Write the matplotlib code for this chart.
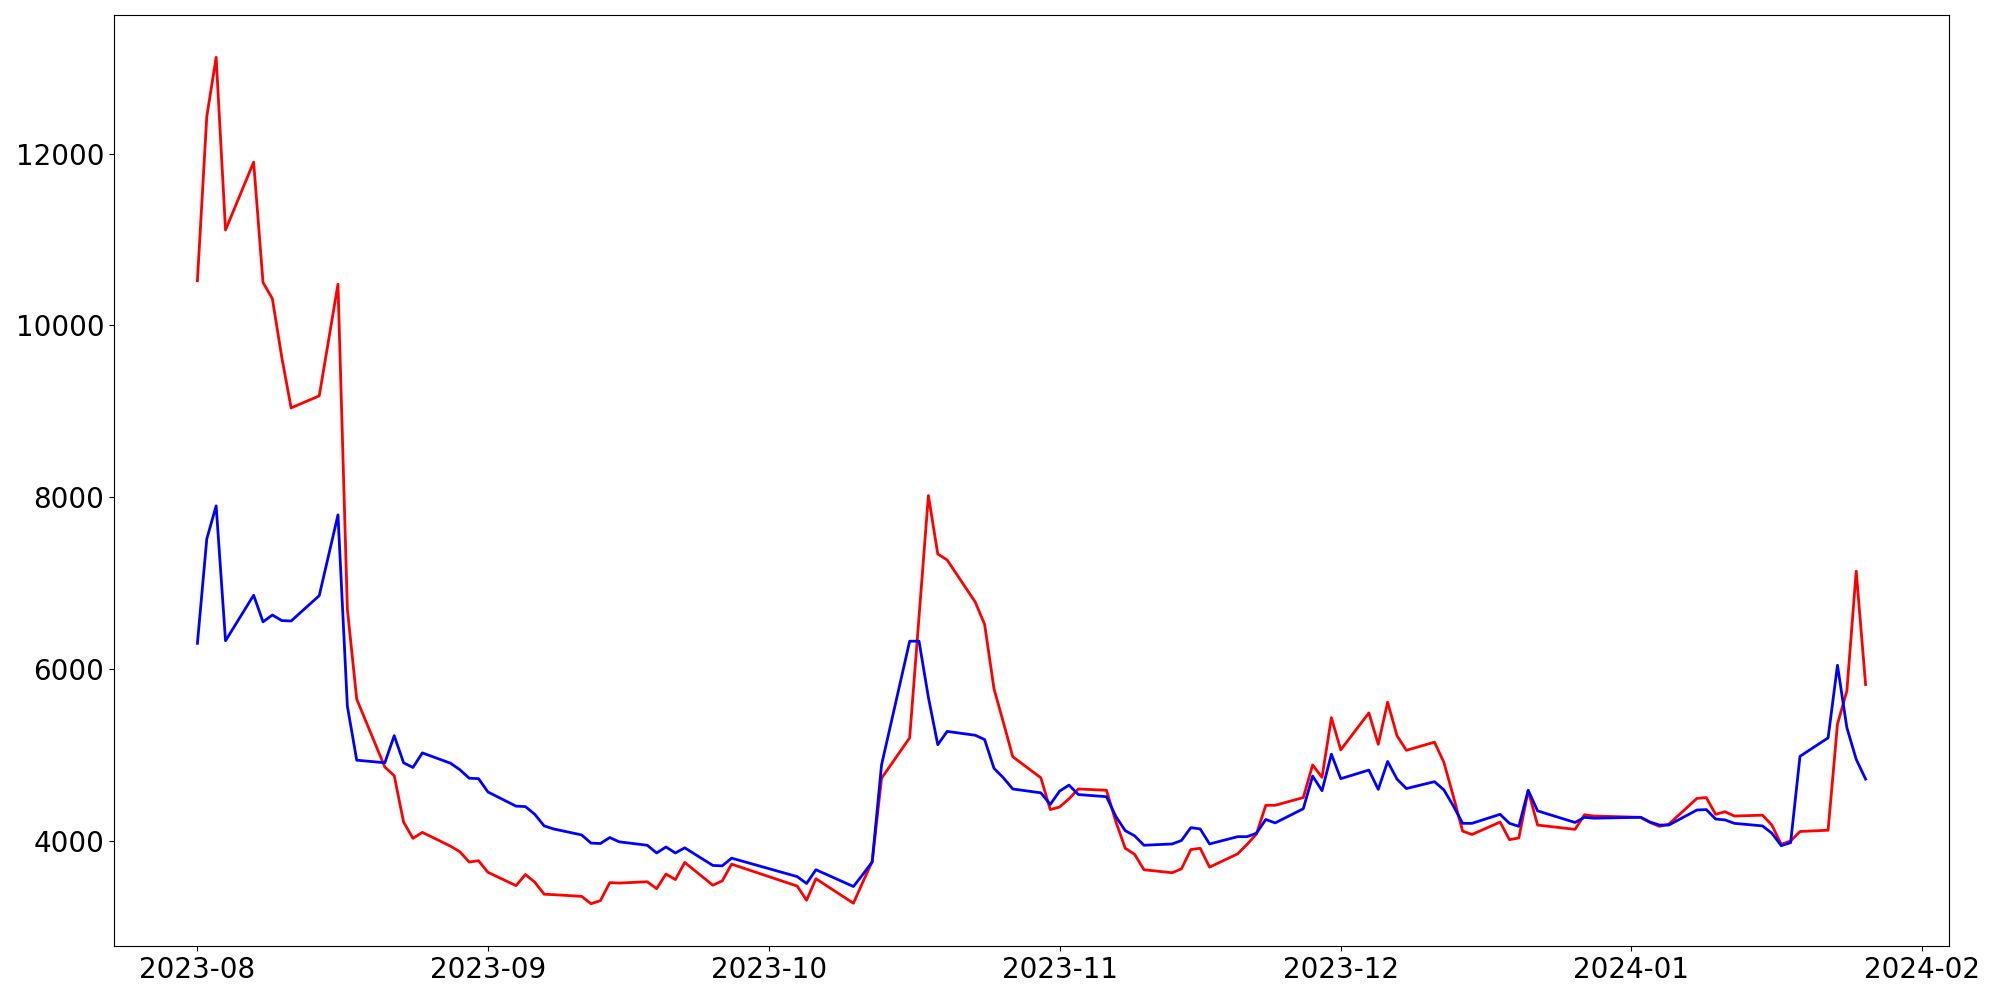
import numpy as np
import pandas as pd
import matplotlib
matplotlib.use("Agg")
import matplotlib.pyplot as plt

# trading days (Korean market holidays skipped)
holidays = ["2023-08-15", "2023-09-28", "2023-09-29", "2023-10-02", "2023-10-03",
            "2023-10-09", "2023-12-25", "2023-12-29", "2024-01-01"]
dates = pd.bdate_range("2023-08-01", "2024-01-26", freq="C", holidays=holidays)

red_aug = [10520, 12430, 13120, 11110, 11900, 10500, 10310, 9630, 9040, 9180, 10480,
           6700, 5650, 4860, 4760, 4220, 4030, 4100, 3940, 3875, 3755, 3770]
red_sep = [3635, 3480, 3610, 3520, 3380, 3375, 3355, 3270, 3305, 3515, 3510,
           3525, 3445, 3615, 3550, 3750, 3485, 3535, 3730]
red_oct = [3475, 3310, 3560, 3275, 3520, 3760, 4730, 5200, 6610, 8020, 7340,
           7270, 6780, 6520, 5770, 5380, 4980, 4735, 4365]
red_nov = [4395, 4490, 4605, 4590, 4225, 3915, 3845, 3665, 3630, 3675, 3900,
           3915, 3695, 3850, 3960, 4080, 4415, 4415, 4505, 4885, 4740, 5435]
red_dec = [5060, 5490, 5125, 5615, 5225, 5055, 5150, 4915, 4525, 4115, 4075,
           4220, 4015, 4035, 4585, 4185, 4135, 4305, 4290]
red_jan = [4275, 4215, 4170, 4195, 4495, 4505, 4310, 4340, 4290, 4300, 4185,
           3960, 4000, 4110, 4125, 5360, 5745, 7140, 5820]

blue_aug = [6300, 7515, 7900, 6330, 6860, 6550, 6630, 6565, 6560, 6855, 7795,
            5570, 4940, 4910, 5225, 4910, 4855, 5025, 4905, 4830, 4730, 4725]
blue_sep = [4570, 4405, 4400, 4310, 4175, 4140, 4070, 3975, 3970, 4040, 3990,
            3950, 3860, 3930, 3860, 3920, 3715, 3710, 3800]
blue_oct = [3585, 3505, 3665, 3470, 3610, 3755, 4885, 6325, 6325, 5670, 5120,
            5275, 5230, 5180, 4845, 4735, 4605, 4560, 4425]
blue_nov = [4580, 4650, 4540, 4515, 4285, 4120, 4060, 3950, 3965, 4005, 4155,
            4140, 3965, 4050, 4050, 4090, 4250, 4210, 4375, 4755, 4585, 5010]
blue_dec = [4725, 4825, 4600, 4925, 4720, 4610, 4690, 4595, 4410, 4205, 4205,
            4310, 4205, 4170, 4590, 4350, 4215, 4275, 4265]
blue_jan = [4275, 4220, 4185, 4185, 4360, 4365, 4255, 4245, 4205, 4175, 4090,
            3945, 3980, 4985, 5200, 6045, 5320, 4950, 4720]

red = red_aug + red_sep + red_oct + red_nov + red_dec + red_jan
blue = blue_aug + blue_sep + blue_oct + blue_nov + blue_dec + blue_jan

fig = plt.figure(figsize=(20, 10), dpi=100)
ax = fig.add_axes([0.057, 0.054, 0.9175, 0.931])
ax.plot(dates, red, color="red", linewidth=2)
ax.plot(dates, blue, color="blue", linewidth=2)
ax.tick_params(labelsize=20)

fig.savefig("out.png")
